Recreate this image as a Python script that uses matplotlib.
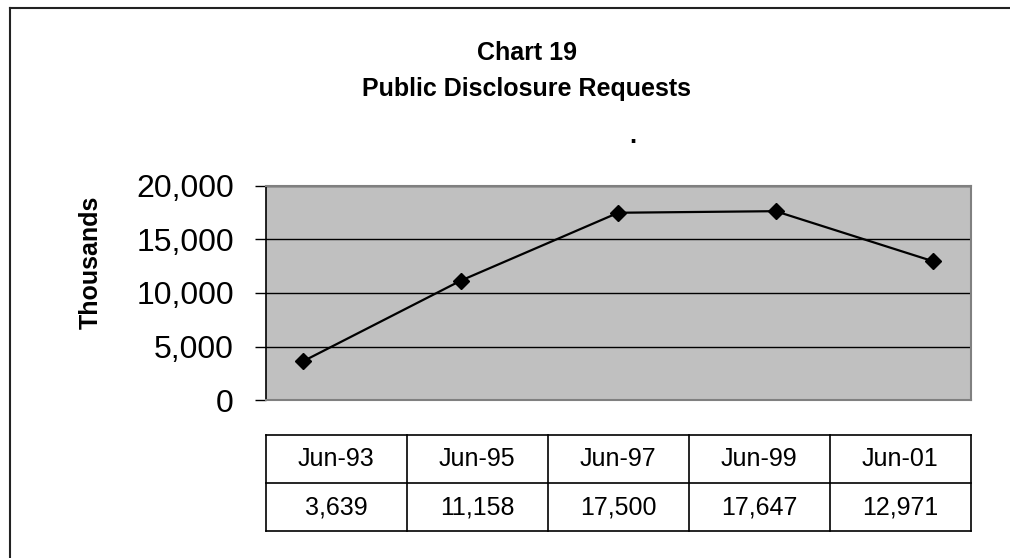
import matplotlib
matplotlib.use("Agg")
import matplotlib.pyplot as plt
from matplotlib.lines import Line2D

plt.rcParams['font.family'] = ['Liberation Sans', 'DejaVu Sans']

categories = ["Jun-93", "Jun-95", "Jun-97", "Jun-99", "Jun-01"]
requests = [3639, 11158, 17500, 17647, 12971]
value_labels = ["3,639", "11,158", "17,500", "17,647", "12,971"]
yticks = [0, 5000, 10000, 15000, 20000]
ytick_labels = ["0", "5,000", "10,000", "15,000", "20,000"]

W, H = 1010, 558
fig = plt.figure(figsize=(W / 100, H / 100), dpi=100)

def fx(x):
    return x / W

def fy(y):
    return 1 - y / H

# outer border (left and top)
fig.add_artist(Line2D([fx(10), fx(10)], [fy(8), fy(558)], color="#222222", lw=1.5))
fig.add_artist(Line2D([fx(10), fx(1010)], [fy(8), fy(8)], color="#222222", lw=1.5))

# title
fig.text(fx(527), fy(60), "Chart 19", ha="center", va="baseline", fontsize=18, fontweight="bold")
fig.text(fx(527), fy(96), "Public Disclosure Requests", ha="center", va="baseline", fontsize=18, fontweight="bold")
fig.text(fx(633), fy(143), ".", ha="center", va="baseline", fontsize=18, fontweight="bold")

# main axes
L, R, T, B = 265.7, 970.7, 186, 400
ax = fig.add_axes([fx(L), fy(B), fx(R - L), (B - T) / H])
ax.set_facecolor("#C0C0C0")
x = list(range(len(categories)))
ax.plot(x, requests, color="black", lw=1.6, marker="D", markersize=8.5, zorder=3)
ax.set_xlim(-0.24, 4.24)
ax.set_ylim(0, 20000)
ax.set_yticks(yticks)
ax.set_yticklabels(ytick_labels, fontsize=23)
ax.set_xticks([])
ax.tick_params(axis="y", length=8, width=1, color="black", direction="out", pad=15)
ax.grid(axis="y", color="black", lw=1)
ax.set_axisbelow(True)
for s in ["top", "right", "bottom"]:
    ax.spines[s].set_color("#808080")
    ax.spines[s].set_linewidth(1.5)
ax.spines["left"].set_color("black")
ax.spines["left"].set_linewidth(1.2)
ax.set_ylabel("Thousands", fontsize=18, fontweight="bold")
ax.yaxis.set_label_coords((103 - L) / (R - L), (B - 262) / (B - T))

# data table
tT, tM, tB = 435, 485, 531
tax = fig.add_axes([fx(L), fy(tB), fx(R - L), (tB - tT) / H])
tax.set_xlim(0, len(categories))
tax.set_ylim(0, 2)
tax.axis("off")
lc = "black"
for yy in (0, 1, 2):
    tax.add_line(Line2D([0, 5], [yy, yy], color=lc, lw=1.2, clip_on=False))
for i in range(len(categories) + 1):
    tax.add_line(Line2D([i, i], [0, 2], color=lc, lw=1.2, clip_on=False))
for i, (c, v) in enumerate(zip(categories, value_labels)):
    tax.text(i + 0.5, 1.5, c, ha="center", va="center", fontsize=18)
    tax.text(i + 0.5, 0.5, v, ha="center", va="center", fontsize=18)

fig.savefig("out.png", dpi=100)
